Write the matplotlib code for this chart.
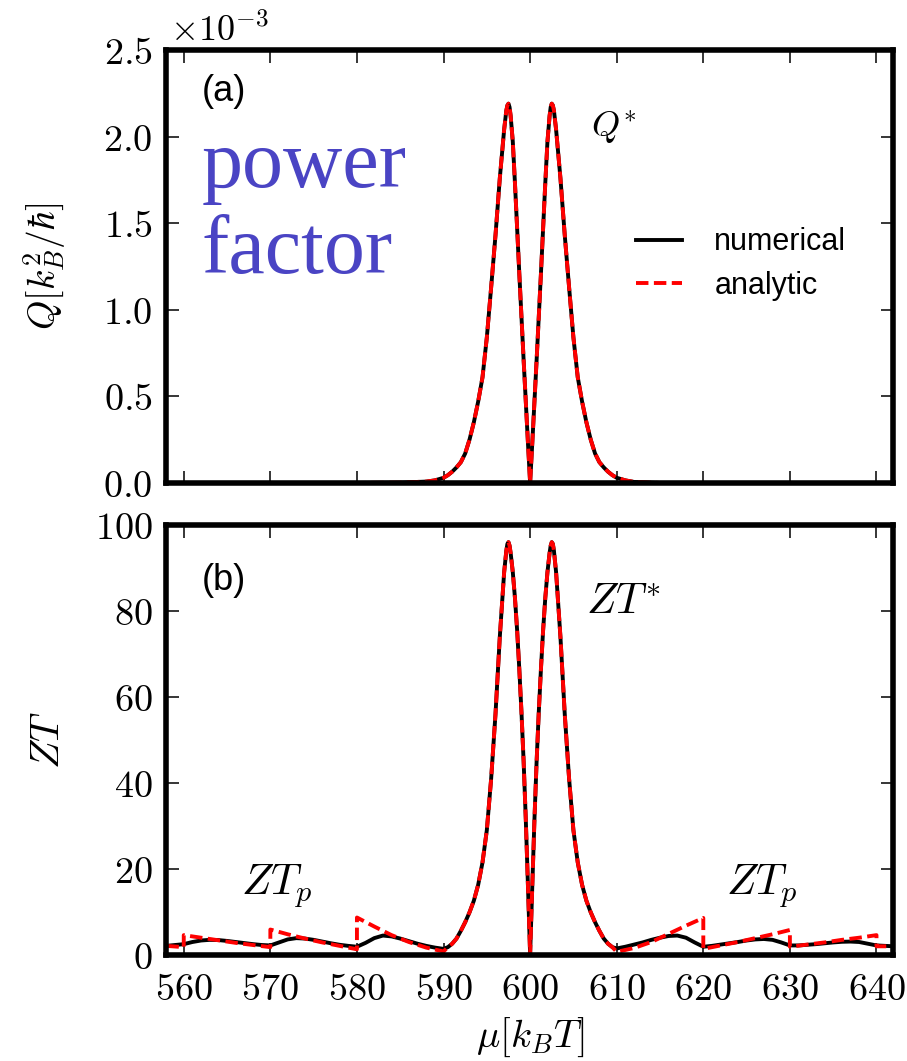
import matplotlib
matplotlib.use("Agg")
import matplotlib.pyplot as plt
from matplotlib.ticker import FuncFormatter

plt.rcParams['mathtext.fontset'] = 'cm'

# ---------------- data ----------------
# Panel (a): power factor Q in units of 1e-3 k_B^2/hbar (numerical and analytic coincide)
q_mu = [561.0, 570.0, 580.0, 585.0, 588.0, 589.0,
        590.0, 590.5, 591.0, 591.5, 592.0, 592.5, 593.0, 593.5, 594.0, 594.5,
        595.0, 595.5, 596.0, 596.5, 597.0, 597.25, 597.375, 597.5, 597.625,
        597.75, 598.0, 598.25,
        598.5, 598.75, 599.0, 599.25, 599.5, 599.75, 600.0,
        600.25, 600.5, 600.75, 601.0, 601.25, 601.5, 601.75, 602.0, 602.25,
        602.375, 602.5, 602.625, 602.75, 603.0, 603.5, 604.0, 604.5, 605.0,
        605.5, 606.0,
        606.5, 607.0, 607.5, 608.0, 608.5, 609.0, 609.5, 610.0,
        611.0, 612.0, 615.0]
q_vals = [0.0, 0.0, 0.0, 0.002, 0.008, 0.015,
          0.03, 0.045, 0.065, 0.09, 0.12, 0.17, 0.25, 0.35, 0.47, 0.61,
          0.84, 1.13, 1.43, 1.76, 2.04, 2.15, 2.18, 2.19, 2.17,
          2.12, 1.97, 1.73,
          1.47, 1.21, 0.96, 0.71, 0.47, 0.23, 0.0,
          0.23, 0.47, 0.71, 0.96, 1.21, 1.47, 1.73, 1.97, 2.12,
          2.17, 2.19, 2.18, 2.15, 2.04, 1.76, 1.43, 1.13, 0.84,
          0.61, 0.47,
          0.35, 0.25, 0.17, 0.12, 0.09, 0.065, 0.045, 0.03,
          0.015, 0.006, 0.0]

# Panel (b): ZT, central double peak (shared by both curves)
zt_main_mu = [590.5, 591.0, 591.5, 592.0, 592.5, 593.0, 593.5, 594.0, 594.5,
              595.0, 595.5, 596.0, 596.5, 597.0, 597.25, 597.375, 597.5, 597.625,
              597.75, 598.0,
              598.25, 598.5, 598.75, 599.0, 599.25, 599.5, 599.75, 600.0,
              600.25, 600.5, 600.75, 601.0, 601.25, 601.5, 601.75, 602.0,
              602.25, 602.375, 602.5, 602.625, 602.75, 603.0, 603.5, 604.0,
              604.5, 605.0,
              605.5, 606.0, 606.5, 607.0, 607.5, 608.0, 608.5, 609.0, 609.5]
zt_main_vals = [1.8, 2.6, 3.8, 5.6, 7.6, 9.9, 12.6, 16.3, 21.5,
                29.0, 41.0, 56.0, 74.0, 89.0, 94.0, 95.6, 96.0, 95.2,
                93.5, 89.0,
                83.0, 75.5, 66.5, 56.5, 45.0, 31.5, 16.0, 0.0,
                16.0, 31.5, 45.0, 56.5, 66.5, 75.5, 83.0, 89.0,
                93.5, 95.2, 96.0, 95.6, 94.0, 89.0, 74.0, 56.0,
                41.0, 29.0,
                21.5, 16.3, 12.6, 9.9, 7.6, 5.6, 3.8, 2.6, 1.8]

# numerical ZT outside the central peak
num_left_mu = [558.0, 559.0, 560.0, 561.0, 562.0, 563.0, 564.0, 565.0, 566.0,
               567.0, 568.0, 569.0, 570.0, 571.0, 572.0, 573.0, 574.0, 575.0,
               576.0, 577.0, 578.0, 579.0, 580.0, 581.0, 582.0, 583.0, 584.0,
               585.0, 586.0, 587.0, 588.0, 589.0, 590.0]
num_left_vals = [2.1, 2.3, 2.5, 3.0, 3.35, 3.5, 3.45, 3.25, 3.0,
                 2.75, 2.5, 2.3, 2.2, 2.9, 3.6, 3.9, 3.8, 3.5,
                 3.1, 2.7, 2.35, 2.1, 1.9, 2.8, 3.9, 4.5, 4.3,
                 3.8, 3.2, 2.6, 2.1, 1.7, 1.4]
num_right_mu = [610.0, 611.0, 612.0, 613.0, 614.0, 615.0, 616.0, 617.0, 618.0,
                619.0, 620.0, 621.0, 622.0, 623.0, 624.0, 625.0, 626.0, 627.0,
                628.0, 629.0, 630.0, 631.0, 632.0, 633.0, 634.0, 635.0, 636.0,
                637.0, 638.0, 639.0, 640.0, 641.0, 642.0]
num_right_vals = [1.5, 1.9, 2.4, 2.9, 3.5, 4.0, 4.4, 4.5, 4.0,
                  2.9, 1.9, 2.1, 2.4, 2.7, 3.0, 3.35, 3.6, 3.7,
                  3.5, 2.9, 2.2, 2.2, 2.35, 2.5, 2.7, 2.9, 3.05,
                  3.1, 3.0, 2.6, 2.2, 2.1, 2.0]

# analytic ZT outside the central peak (saw-tooth with jumps every 10 k_BT)
ana_left_mu = [558.0, 560.0, 560.0, 562.0, 564.0, 566.0, 568.0, 570.0,
               570.0, 572.0, 574.0, 576.0, 578.0, 580.0,
               580.0, 582.0, 584.0, 586.0, 588.0, 590.0]
ana_left_vals = [2.1, 1.8, 4.6, 4.0, 3.4, 2.8, 2.3, 1.8,
                 5.9, 4.8, 3.8, 2.9, 2.1, 1.3,
                 8.7, 6.6, 4.6, 3.0, 1.7, 0.8]
ana_right_mu = [610.0, 612.0, 614.0, 616.0, 618.0, 620.0,
                620.0, 622.0, 624.0, 626.0, 628.0, 630.0,
                630.0, 632.0, 634.0, 636.0, 638.0, 640.0,
                640.0, 642.0]
ana_right_vals = [0.7, 1.6, 3.0, 4.9, 6.8, 8.6,
                  1.4, 2.2, 3.0, 3.9, 4.8, 5.8,
                  1.9, 2.4, 2.9, 3.5, 4.0, 4.6,
                  2.0, 2.0]

x_ticks = [560, 570, 580, 590, 600, 610, 620, 630, 640]
q_ticks = [0.0, 0.5, 1.0, 1.5, 2.0, 2.5]
zt_ticks = [0, 20, 40, 60, 80, 100]

# ---------------- figure ----------------
fig = plt.figure(figsize=(9.07, 10.61), dpi=100)
ax1 = fig.add_axes([0.1835, 0.5448, 0.8010, 0.4081])
ax2 = fig.add_axes([0.1835, 0.1000, 0.8010, 0.4052])

num_mu = num_left_mu + zt_main_mu + num_right_mu
num_zt = num_left_vals + zt_main_vals + num_right_vals
ana_mu = ana_left_mu + zt_main_mu + ana_right_mu
ana_zt = ana_left_vals + zt_main_vals + ana_right_vals

lw = 2.8
dash = (3.2, 1.4)
ax1.plot(q_mu, q_vals, color='black', lw=lw, label='numerical', zorder=2.0)
ax1.plot(q_mu, q_vals, color='red', lw=lw, ls=(0, dash), label='analytic', zorder=2.1)
ax2.plot(num_mu, num_zt, color='black', lw=lw, zorder=2.0)
ax2.plot(ana_mu, ana_zt, color='red', lw=lw, ls=(0, dash), zorder=2.1)

tickfmt = lambda fmt: FuncFormatter(lambda v, p: '$' + (fmt % v) + '$')

for ax in (ax1, ax2):
    ax.set_xlim(558.0, 641.9)
    ax.set_xticks(x_ticks)
    for s in ax.spines.values():
        s.set_linewidth(4.0)
        s.set_zorder(2.5)
    ax.tick_params(direction='in', length=9, width=1.1, top=True, right=True,
                   labelsize=27.5, pad=10)
    ax.tick_params(axis='x', pad=12)

ax1.set_ylim(0, 2.5)
ax1.set_yticks(q_ticks)
ax1.yaxis.set_major_formatter(tickfmt('%.1f'))
ax1.tick_params(axis='x', labelbottom=False)
ax2.set_ylim(0, 100)
ax2.set_yticks(zt_ticks)
ax2.yaxis.set_major_formatter(tickfmt('%d'))
ax2.xaxis.set_major_formatter(tickfmt('%d'))

ax1.set_ylabel(r'$Q[k_B^2/\hbar]$', fontsize=27)
ax2.set_ylabel(r'$ZT$', fontsize=29)
ax2.set_xlabel(r'$\mu[k_BT]$', fontsize=28, labelpad=6)
ax1.yaxis.set_label_coords(-0.135, 0.5)
ax2.yaxis.set_label_coords(-0.135, 0.5)

ax1.text(0.005, 1.005, r'$\times10^{-3}$', transform=ax1.transAxes, fontsize=26,
         ha='left', va='bottom')

sans = 'Liberation Sans'
ax1.text(0.048, 0.905, '(a)', transform=ax1.transAxes, fontsize=26, family=sans,
         va='center', ha='left')
ax2.text(0.048, 0.87, '(b)', transform=ax2.transAxes, fontsize=26, family=sans,
         va='center', ha='left')

ax1.text(0.048, 0.73, 'power', transform=ax1.transAxes, fontsize=59,
         family='Liberation Serif', color='#4a44c4', va='center', ha='left')
ax1.text(0.048, 0.53, 'factor', transform=ax1.transAxes, fontsize=59,
         family='Liberation Serif', color='#4a44c4', va='center', ha='left')

ax1.text(607.0, 2.05, r'$Q^{*}$', fontsize=26, ha='left', va='center')
ax2.text(606.4, 82, r'$ZT^{*}$', fontsize=31, ha='left', va='center')
ax2.text(566.6, 16, r'$ZT_p$', fontsize=31, ha='left', va='center')
ax2.text(622.6, 16, r'$ZT_p$', fontsize=31, ha='left', va='center')

leg = ax1.legend(loc='center left', bbox_to_anchor=(0.647, 0.505), frameon=False,
                 prop={'family': sans, 'size': 22}, handlelength=1.5,
                 handletextpad=1.05, labelspacing=0.45, borderpad=0.0,
                 borderaxespad=0.0)

fig.savefig('out.png', dpi=100)
